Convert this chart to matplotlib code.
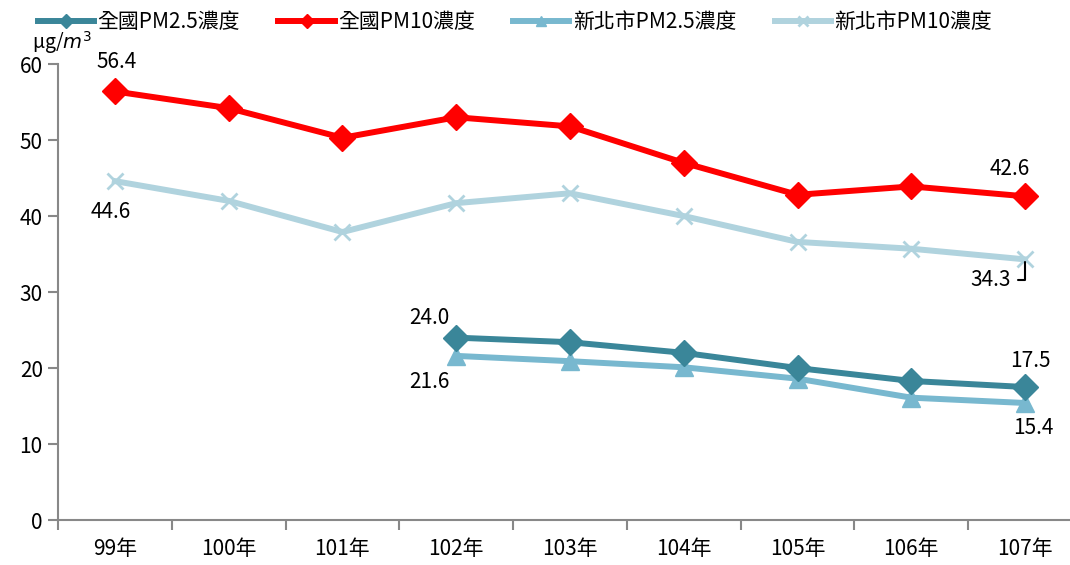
import matplotlib
matplotlib.use('Agg')
import matplotlib.pyplot as plt

plt.rcParams['font.family'] = ['Noto Sans CJK TC', 'DejaVu Sans']

years = ['99年', '100年', '101年', '102年', '103年', '104年', '105年', '106年', '107年']
# national values, all years
tw_pm10 = [56.4, 54.2, 50.3, 53.0, 51.8, 47.0, 42.8, 43.9, 42.6]
# PM2.5 only from 102
tw_pm25 = [None, None, None, 24.0, 23.4, 22.0, 20.0, 18.3, 17.5]
# New Taipei
ntp_pm10 = [44.6, 42.0, 37.9, 41.7, 43.0, 40.0, 36.6, 35.7, 34.3]
ntp_pm25 = [None, None, None, 21.6, 20.9, 20.1, 18.6, 16.1, 15.4]

def pts(vals):
    xs = [i for i, v in enumerate(vals) if v is not None]
    return xs, [vals[i] for i in xs]

fig = plt.figure(figsize=(10.7, 5.65), dpi=100)
ax = fig.add_axes([0.0542, 0.0796, 0.957, 0.807])

x, y = pts(tw_pm25)
ax.plot(x, y, color='#3A8699', lw=4.3, marker='D', ms=13.5, label='全國PM2.5濃度', zorder=4)
x, y = pts(tw_pm10)
ax.plot(x, y, color='#FF0000', lw=4.3, marker='D', ms=13.5, label='全國PM10濃度', zorder=4)
x, y = pts(ntp_pm25)
ax.plot(x, y, color='#78B8CF', lw=4.3, marker='^', ms=13, label='新北市PM2.5濃度', zorder=3)
x, y = pts(ntp_pm10)
ax.plot(x, y, color='#B0D3DE', lw=4.3, marker='x', ms=12, mew=2, label='新北市PM10濃度', zorder=3)

ax.set_xlim(-0.5, 8.5)
ax.set_ylim(0, 60)
ax.set_yticks(range(0, 61, 10))
ax.set_xticks(range(len(years)))
ax.set_xticklabels(years)
ax.set_xticks([i - 0.5 for i in range(len(years) + 1)], minor=True)
ax.tick_params(axis='x', which='major', length=0, labelsize=15, pad=13)
ax.tick_params(axis='x', which='minor', length=7, width=1.5, color='#888888', direction='out')
ax.tick_params(axis='y', length=7, width=1.5, color='#888888', labelsize=15, pad=4)
for s in ['top', 'right']:
    ax.spines[s].set_visible(False)
for s in ['left', 'bottom']:
    ax.spines[s].set_color('#888888')
    ax.spines[s].set_linewidth(1.5)

fig.text(0.03, 0.9, 'μg/$m^3$', fontsize=14, ha='left', va='bottom')

fs = 15
ax.annotate('56.4', (0, tw_pm10[0]), xytext=(1, 13), textcoords='offset points', ha='center', va='bottom', fontsize=fs)
ax.annotate('44.6', (0, ntp_pm10[0]), xytext=(-3, -14), textcoords='offset points', ha='center', va='top', fontsize=fs)
ax.annotate('42.6', (8, tw_pm10[8]), xytext=(-11, 12), textcoords='offset points', ha='center', va='bottom', fontsize=fs)
ax.annotate('34.3', (8, ntp_pm10[8]), xytext=(-25, -15), textcoords='offset points', ha='center', va='center', fontsize=fs,
            arrowprops=dict(arrowstyle='-', connectionstyle='angle,angleA=0,angleB=90,rad=0', color='black', lw=1.5,
                            shrinkA=3, shrinkB=2))
ax.annotate('24.0', (3, tw_pm25[3]), xytext=(-19, 6), textcoords='offset points', ha='center', va='bottom', fontsize=fs)
ax.annotate('21.6', (3, ntp_pm25[3]), xytext=(-19, -11), textcoords='offset points', ha='center', va='top', fontsize=fs)
ax.annotate('17.5', (8, tw_pm25[8]), xytext=(4, 11), textcoords='offset points', ha='center', va='bottom', fontsize=fs)
ax.annotate('15.4', (8, ntp_pm25[8]), xytext=(6, -10), textcoords='offset points', ha='center', va='top', fontsize=fs)

fig.legend(loc='upper left', bbox_to_anchor=(0.018, 1.013), ncol=4, frameon=False, fontsize=15,
           handlelength=2.7, handletextpad=0.15, columnspacing=1.85, markerscale=0.55)

fig.savefig('out.png', dpi=100)
